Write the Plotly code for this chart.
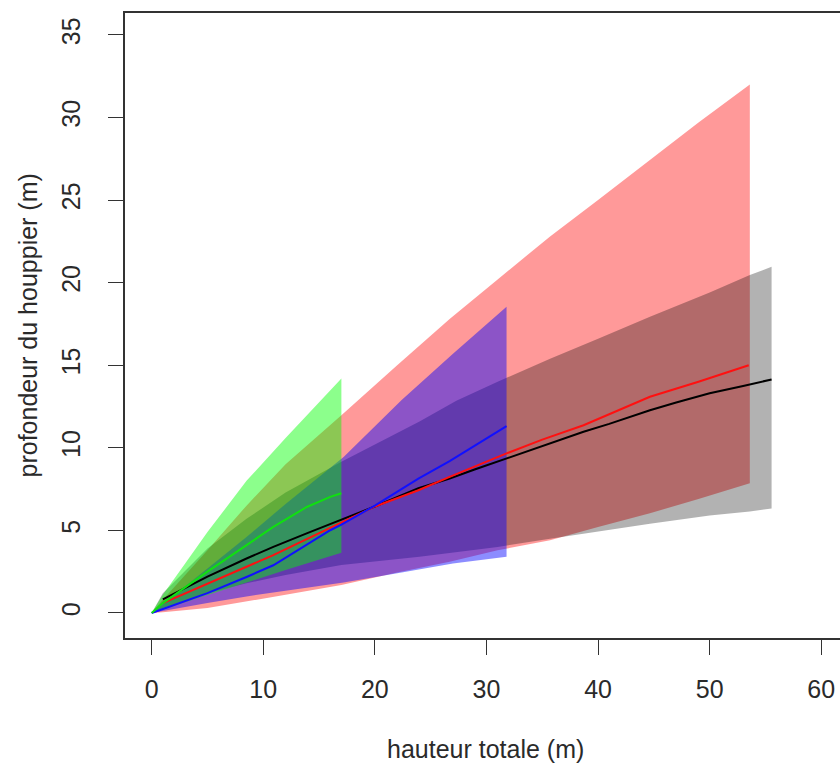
import plotly.graph_objects as go

# ---------------- data ----------------
# red band (with red median line)
red_x = [0, 1, 5, 8.5, 12, 17, 22, 26.7, 31, 35.7, 40, 44.65, 49, 53.6]
red_upper = [0, 0.8, 3.8, 6.5, 9.0, 11.97, 15.0, 17.8, 20.2, 22.8, 25.0, 27.4, 29.7, 32.0]
red_lower = [0, 0.05, 0.3, 0.68, 1.1, 1.7, 2.45, 3.1, 3.8, 4.4, 5.2, 6.04, 6.9, 7.86]
red_line_x = [1, 5, 8.5, 10.9, 17, 20, 23.9, 26.7, 31.8, 35, 38.7, 44.65, 49, 53.5]
red_line_y = [0.6, 1.75, 2.8, 3.5, 5.5, 6.45, 7.43, 8.24, 9.66, 10.5, 11.37, 13.09, 14.0, 15.0]

# grey band (with black median line)
grey_x = [0, 1, 5, 8.5, 12, 17, 24, 27.3, 31, 35.7, 40, 44.65, 50, 53.6, 55.55]
grey_upper = [0, 1.2, 3.9, 5.7, 7.3, 9.15, 11.6, 12.85, 14.0, 15.4, 16.6, 17.93, 19.4, 20.46, 20.96]
grey_lower = [0, 0.3, 1.2, 1.8, 2.3, 2.9, 3.4, 3.7, 4.0, 4.5, 4.95, 5.4, 5.9, 6.15, 6.33]
black_line_x = [1, 5, 8.5, 10.9, 14, 17, 20, 23.9, 26.7, 29, 31.8, 35, 38.7, 41, 44.65, 47, 50, 53, 55.55]
black_line_y = [0.83, 2.2, 3.3, 4.0, 4.85, 5.65, 6.45, 7.55, 8.14, 8.7, 9.35, 10.1, 10.97, 11.45, 12.28, 12.75, 13.3, 13.75, 14.14]

# blue band (with blue median line)
blue_x = [0, 1, 5, 8.5, 12, 17.2, 22.4, 27, 31.8]
blue_upper = [0, 0.55, 2.7, 4.6, 6.6, 9.45, 12.9, 15.7, 18.54]
blue_lower = [0, 0.1, 0.6, 1.0, 1.35, 1.85, 2.45, 3.0, 3.4]
blue_line_x = [0, 5, 8.5, 10.9, 16, 17, 20, 23.9, 26.7, 31.8]
blue_line_y = [0, 1.2, 2.18, 2.89, 5.01, 5.35, 6.5, 8.14, 9.2, 11.31]

# green band (with green median line)
green_x = [0, 1, 3, 5, 8.5, 12, 17]
green_upper = [0, 1.1, 3.0, 4.9, 8.0, 10.6, 14.2]
green_lower = [0, 0.22, 0.66, 1.1, 1.85, 2.6, 3.65]
green_line_x = [0, 1, 5, 8.5, 10.9, 13.9, 16, 17]
green_line_y = [0, 0.6, 2.5, 4.1, 5.21, 6.42, 7.03, 7.25]

x_ticks = [0, 10, 20, 30, 40, 50, 60]
y_ticks = [0, 5, 10, 15, 20, 25, 30, 35]
x_title = "hauteur totale (m)"
y_title = "profondeur du houppier (m)"

# ---------------- figure ----------------
FONT = "Liberation Sans, Arial, sans-serif"
TXT = "#2a2a2a"

fig = go.Figure()

def band(xs, up, lo, color):
    fig.add_trace(go.Scatter(
        x=list(xs) + list(xs)[::-1],
        y=list(up) + list(lo)[::-1],
        fill="toself", fillcolor=color, mode="lines",
        line=dict(width=0), hoverinfo="skip", showlegend=False))

band(red_x, red_upper, red_lower, "rgba(255,0,0,0.40)")
band(grey_x, grey_upper, grey_lower, "rgba(0,0,0,0.30)")
band(blue_x, blue_upper, blue_lower, "rgba(0,0,255,0.45)")
band(green_x, green_upper, green_lower, "rgba(0,255,0,0.45)")

def line(xs, ys, color):
    fig.add_trace(go.Scatter(x=xs, y=ys, mode="lines",
                             line=dict(color=color, width=2),
                             hoverinfo="skip", showlegend=False))

line(black_line_x, black_line_y, "#000000")
line(red_line_x, red_line_y, "#ff1010")
line(blue_line_x, blue_line_y, "#1010ff")
line(green_line_x, green_line_y, "#10e010")

fig.update_layout(
    width=840, height=765, autosize=False,
    margin=dict(l=125, r=0, t=13, b=127, pad=0),
    plot_bgcolor="white", paper_bgcolor="white",
    font=dict(family=FONT, size=25, color=TXT),
    showlegend=False,
    xaxis=dict(range=[-2.39, 61.68], tickvals=x_ticks,
               ticktext=[str(v) for v in x_ticks],
               ticks="outside", ticklen=15, tickwidth=1.4, tickcolor="#333",
               showline=True, linecolor="#333", linewidth=1.6, mirror=True,
               showgrid=False, zeroline=False,
               ticklabelstandoff=13,
               tickfont=dict(family=FONT, size=25, color=TXT)),
    yaxis=dict(range=[-1.515, 36.33], tickvals=y_ticks,
               ticktext=[str(v) for v in y_ticks],
               ticks="outside", ticklen=15, tickwidth=1.4, tickcolor="#333",
               showline=True, linecolor="#333", linewidth=1.6, mirror=False,
               showgrid=False, zeroline=False, tickangle=-90,
               ticklabelstandoff=18,
               tickfont=dict(family=FONT, size=25, color=TXT)),
    annotations=[
        dict(text=x_title, xref="x", yref="paper", x=29.9, y=0,
             yshift=-111, xanchor="center", yanchor="middle",
             showarrow=False, font=dict(family=FONT, size=25, color=TXT)),
        dict(text=y_title, xref="paper", yref="paper", x=0, y=0.5,
             xshift=-98, xanchor="center", yanchor="middle", textangle=-90,
             showarrow=False, font=dict(family=FONT, size=25, color=TXT)),
    ],
)

fig.write_html(
    "out.html",
    config={"displayModeBar": False},
    post_script="document.body.style.margin='0';document.body.style.padding='0';"
                "document.body.style.overflow='hidden';",
)
